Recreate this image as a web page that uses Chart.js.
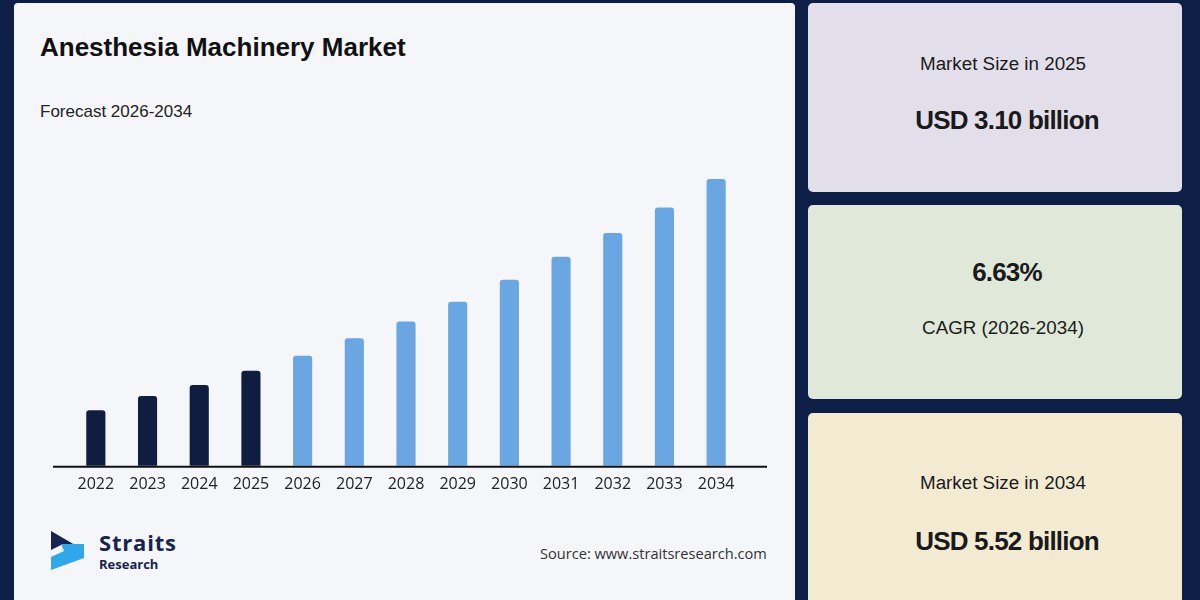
<!DOCTYPE html>
<html>
<head>
<meta charset="utf-8">
<script src="https://cdn.jsdelivr.net/npm/chart.js@4.4.1/dist/chart.umd.min.js"></script>
<style>
  html, body { margin: 0; padding: 0; }
  body { width: 1200px; height: 600px; background: #0d1f47; position: relative; overflow: hidden; font-family: "Liberation Sans", Arial, sans-serif; }
  .panel { position: absolute; left: 14px; top: 3px; width: 781px; height: 610px; background: #f5f6fa; border-radius: 4px; }
  .title { position: absolute; left: 40px; top: 32px; font-size: 26px; font-weight: bold; color: #111; }
  .sub { position: absolute; left: 40px; top: 102px; font-size: 17px; color: #222; }
  #wrap { position: absolute; left: 0; top: 0; width: 800px; height: 520px; }
  .source { position: absolute; left: 540px; top: 543px; font-family: "Open Sans", sans-serif; font-size: 14.6px; color: #333; }
  .logo { position: absolute; left: 50px; top: 530px; }
  .brand { position: absolute; left: 99px; top: 530px; font-family: "Open Sans", sans-serif; font-weight: bold; color: #17244f; }
  .brand .b1 { font-size: 22px; line-height: 24px; letter-spacing: 0.8px; }
  .brand .b2 { font-size: 13px; line-height: 16px; margin-top: 2px; }
  .card { position: absolute; left: 808px; width: 374px; border-radius: 5px; text-align: center; color: #1a1a1a; }
  .card div { position: absolute; left: 8px; right: -8px; }
  .card div.big { left: 12px; right: -12px; }
  .c1 { top: 3px; height: 189px; background: #e3dfea; }
  .c2 { top: 205px; height: 194px; background: #e0e9d9; }
  .c3 { top: 413px; height: 200px; background: #f2ebd2; }
  .lbl { font-size: 18.8px; }
  .big { font-size: 26px; font-weight: bold; letter-spacing: -0.8px; }
</style>
</head>
<body>
<div class="panel"></div>
<div class="title">Anesthesia Machinery Market</div>
<div class="sub">Forecast 2026-2034</div>
<div id="wrap"><canvas id="myChart" width="800" height="520"></canvas></div>

<svg class="logo" width="40" height="42" viewBox="0 0 40 42">
  <polygon points="1,1 25,15 11,15 1,20" fill="#17244f"/>
  <polygon points="11,14 34,14 34,28 1,40 1,27 14,21" fill="#2ea8ea"/>
</svg>
<div class="brand"><div class="b1">Straits</div><div class="b2">Research</div></div>
<div class="source">Source: www.straitsresearch.com</div>

<div class="card c1">
  <div class="lbl" style="top:50px">Market Size in 2025</div>
  <div class="big" style="top:102px">USD 3.10 billion</div>
</div>
<div class="card c2">
  <div class="big" style="top:52px">6.63%</div>
  <div class="lbl" style="top:112px">CAGR (2026-2034)</div>
</div>
<div class="card c3">
  <div class="lbl" style="top:59px">Market Size in 2034</div>
  <div class="big" style="top:113px">USD 5.52 billion</div>
</div>

<script>
// datos (USD billion)
const years = ['2022','2023','2024','2025','2026','2027','2028','2029','2030','2031','2032','2033','2034'];
const values = [2.60, 2.78, 2.92, 3.10, 3.29, 3.51, 3.72, 3.97, 4.25, 4.54, 4.84, 5.16, 5.52];
const historicCount = 4;

const dark = '#0f1e40';
const light = '#69a6e2';

// linea base mas larga que el area del grafico
const baseLine = {
  id: 'baseLine',
  afterDatasetsDraw(chart) {
    const ctx = chart.ctx;
    const y = chart.scales.y.getPixelForValue(chart.scales.y.min);
    ctx.save();
    ctx.strokeStyle = '#111';
    ctx.lineWidth = 2;
    ctx.beginPath();
    ctx.moveTo(53, y + 1);
    ctx.lineTo(767, y + 1);
    ctx.stroke();
    ctx.restore();
  }
};

new Chart(document.getElementById('myChart'), {
  type: 'bar',
  data: {
    labels: years,
    datasets: [{
      label: 'Market size',
      data: values,
      backgroundColor: values.map((v, i) => i < historicCount ? dark : light),
      borderRadius: { topLeft: 3, topRight: 3 },
      borderSkipped: 'bottom',
      barPercentage: 0.74,
      categoryPercentage: 0.5
    }]
  },
  options: {
    responsive: false,
    animation: false,
    layout: { padding: { left: 70, right: 58, top: 141, bottom: 17 } },
    plugins: { legend: { display: false }, tooltip: { enabled: false } },
    scales: {
      x: {
        grid: { display: false, drawTicks: false },
        border: { display: false },
        ticks: { color: '#222', padding: 9, font: { family: 'Open Sans', size: 16 } }
      },
      y: {
        display: false,
        min: 1.9,
        max: 6.0
      }
    }
  },
  plugins: [baseLine]
});
</script>
</body>
</html>
